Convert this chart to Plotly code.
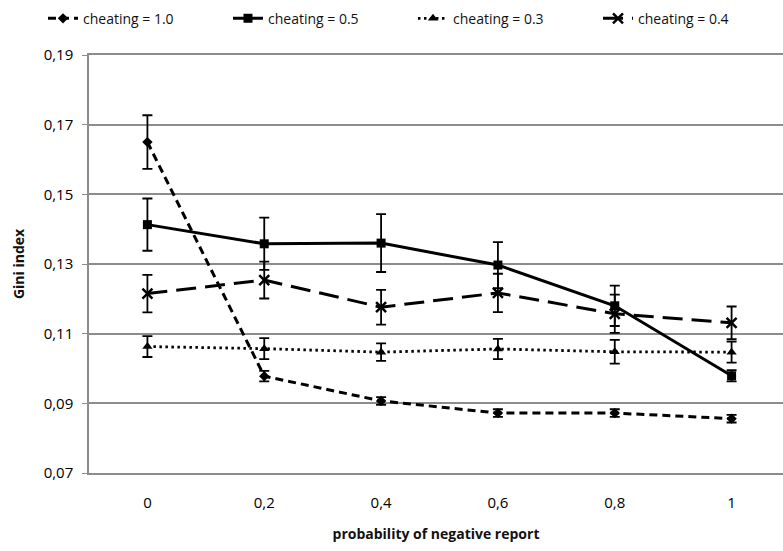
import plotly.graph_objects as go

categories = ["0", "0,2", "0,4", "0,6", "0,8", "1"]

names = ["cheating = 1.0", "cheating = 0.5", "cheating = 0.3", "cheating = 0.4"]

gini_c10 = [0.1650, 0.0978, 0.0907, 0.0872, 0.0872, 0.0856]
err_c10 = [0.0077, 0.0015, 0.0011, 0.0011, 0.0011, 0.0011]

gini_c05 = [0.1413, 0.1358, 0.1360, 0.1297, 0.1180, 0.0979]
err_c05 = [0.0075, 0.0075, 0.0083, 0.0066, 0.0058, 0.0016]

gini_c03 = [0.1063, 0.1057, 0.1047, 0.1056, 0.1048, 0.1047]
err_c03 = [0.0030, 0.0030, 0.0025, 0.0029, 0.0034, 0.0030]

gini_c04 = [0.1215, 0.1254, 0.1176, 0.1217, 0.1157, 0.1131]
err_c04 = [0.0054, 0.0053, 0.0050, 0.0055, 0.0055, 0.0047]

y_tickvals = [0.07, 0.09, 0.11, 0.13, 0.15, 0.17, 0.19]
y_ticktext = ["0,07", "0,09", "0,11", "0,13", "0,15", "0,17", "0,19"]

font_family = "Open Sans, Liberation Sans, sans-serif"

series = [
    (names[0], gini_c10, err_c10, dict(dash="8px,5px", width=3), dict(symbol="diamond", size=8)),
    (names[1], gini_c05, err_c05, dict(dash="solid", width=3), dict(symbol="square", size=9)),
    (names[2], gini_c03, err_c03, dict(dash="2.5px,3.5px", width=2.8), dict(symbol="triangle-up", size=9)),
    (names[3], gini_c04, err_c04, dict(dash="20px,9px", width=3), dict(symbol="x-thin", size=10, line=dict(width=2.5, color="black"))),
]

fig = go.Figure()
for name, vals, errs, line, marker in series:
    line = dict(line, color="black")
    marker = dict(marker, color="black")
    fig.add_trace(go.Scatter(
        x=categories, y=vals, name=name, mode="lines+markers",
        line=line, marker=marker,
        error_y=dict(type="data", array=errs, visible=True, color="black", thickness=1.8, width=5),
    ))

grid_col = "#8c8c8c"

fig.update_layout(
    width=783, height=551,
    margin=dict(l=89, r=0, t=55, b=78, autoexpand=False),
    paper_bgcolor="white", plot_bgcolor="white",
    font=dict(family=font_family, color="#111111", size=14),
    showlegend=True,
    legend=dict(orientation="h", x=-0.0663, xanchor="left",
                y=1.125, yanchor="top",
                font=dict(size=14), entrywidth=140, entrywidthmode="pixels",
                bgcolor="rgba(0,0,0,0)", tracegroupgap=0),
    xaxis=dict(type="category", range=[-0.5, 5.44], showgrid=False,
               showline=True, linecolor=grid_col, linewidth=1.5, mirror=True,
               ticks="", tickfont=dict(size=15, color="black"), zeroline=False, ticklabelstandoff=15,
               title=dict(text="<b>probability of negative report</b>", font=dict(size=14), standoff=18)),
    yaxis=dict(range=[0.07, 0.19], tickvals=y_tickvals, ticktext=y_ticktext,
               showgrid=True, gridcolor=grid_col, gridwidth=1.5,
               showline=True, linecolor=grid_col, linewidth=1.5,
               ticks="outside", ticklen=5, tickcolor=grid_col, tickfont=dict(size=15, color="black"),
               zeroline=False, ticklabelstandoff=6,
               title=dict(text="<b>Gini index</b>", font=dict(size=14), standoff=16)),
)

fig.write_html("out.html")
